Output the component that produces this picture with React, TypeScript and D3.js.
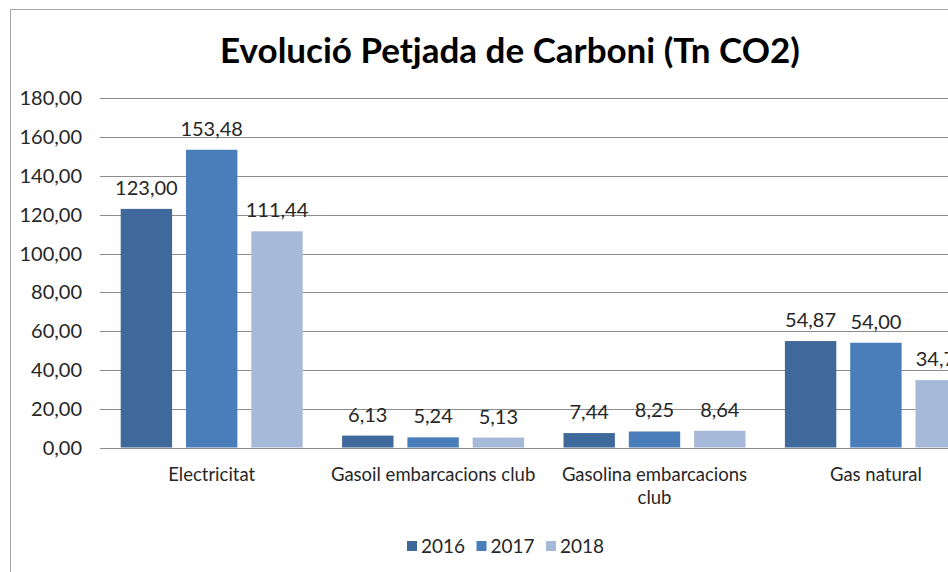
import React from "react";
import * as d3 from "d3";

const categories: string[][] = [
  ["Electricitat"],
  ["Gasoil embarcacions club"],
  ["Gasolina embarcacions", "club"],
  ["Gas natural"],
];
const seriesNames = ["2016", "2017", "2018"];
const values2016 = [123.0, 6.13, 7.44, 54.87];
const values2017 = [153.48, 5.24, 8.25, 54.0];
const values2018 = [111.44, 5.13, 8.64, 34.72];
const seriesValues = [values2016, values2017, values2018];
const colors = ["#3F689B", "#4A7EBB", "#A7B9D9"];
const yTicks = [0, 20, 40, 60, 80, 100, 120, 140, 160, 180];

const fmt = (v: number) => v.toFixed(2).replace(".", ",");
const FONT = "Lato, 'Open Sans', sans-serif";

export default function App() {
  const W = 948;
  const H = 572;
  const plotLeft = 101;
  const step = 221.4;
  const plotRight = plotLeft + step * categories.length;
  const x = d3
    .scaleBand<number>()
    .domain(categories.map((_, i) => i))
    .range([plotLeft, plotRight])
    .paddingInner(0)
    .paddingOuter(0);
  const groupPad = 19.7;
  const inner = d3
    .scaleBand<number>()
    .domain(seriesNames.map((_, i) => i))
    .range([groupPad, x.bandwidth() - groupPad])
    .paddingInner(0.213)
    .paddingOuter(0);
  const y = d3.scaleLinear().domain([0, 180]).range([447.5, 98.3]);

  return (
    <div style={{ position: "fixed", left: 0, top: 0, background: "#fff" }}>
      <svg width={W} height={H} style={{ display: "block", fontFamily: FONT }}>
        <rect x={0} y={0} width={W} height={H} fill="#fff" />
        <rect x={10.5} y={9.5} width={1000} height={600} fill="#fff" stroke="#A6A6A6" strokeWidth={1} />
        <text x={510} y={63} textAnchor="middle" fontSize={35} fontWeight={700} fill="#000">
          Evolució Petjada de Carboni (Tn CO2)
        </text>
        {yTicks.map((t) => (
          <g key={t}>
            <line x1={100} x2={plotRight} y1={Math.round(y(t)) + 0.5} y2={Math.round(y(t)) + 0.5} stroke="#8C8C8C" strokeWidth={1} />
            <text x={82} y={y(t) + 7} textAnchor="end" fontSize={20} fill="#262626">
              {fmt(t)}
            </text>
          </g>
        ))}
        {seriesValues.map((vals, s) =>
          vals.map((v, i) => {
            const bx = (x(i) as number) + (inner(s) as number);
            return (
              <g key={`${s}-${i}`}>
                <rect x={bx} y={y(v)} width={inner.bandwidth()} height={y(0) - y(v)} fill={colors[s]} />
                <text x={bx + inner.bandwidth() / 2} y={y(v) - 14} textAnchor="middle" fontSize={20} fill="#262626">
                  {fmt(v)}
                </text>
              </g>
            );
          })
        )}
        {categories.map((lines, i) => (
          <text key={i} x={(x(i) as number) + x.bandwidth() / 2} y={481} textAnchor="middle" fontSize={18.5} fill="#262626">
            {lines.map((l, j) => (
              <tspan key={j} x={(x(i) as number) + x.bandwidth() / 2} dy={j === 0 ? 0 : 23}>
                {l}
              </tspan>
            ))}
          </text>
        ))}
        {seriesNames.map((n, s) => {
          const lx = 407 + s * 69.5;
          return (
            <g key={n}>
              <rect x={lx} y={541} width={10} height={10} fill={colors[s]} />
              <text x={lx + 14} y={553} fontSize={19} fill="#262626">
                {n}
              </text>
            </g>
          );
        })}
      </svg>
    </div>
  );
}
